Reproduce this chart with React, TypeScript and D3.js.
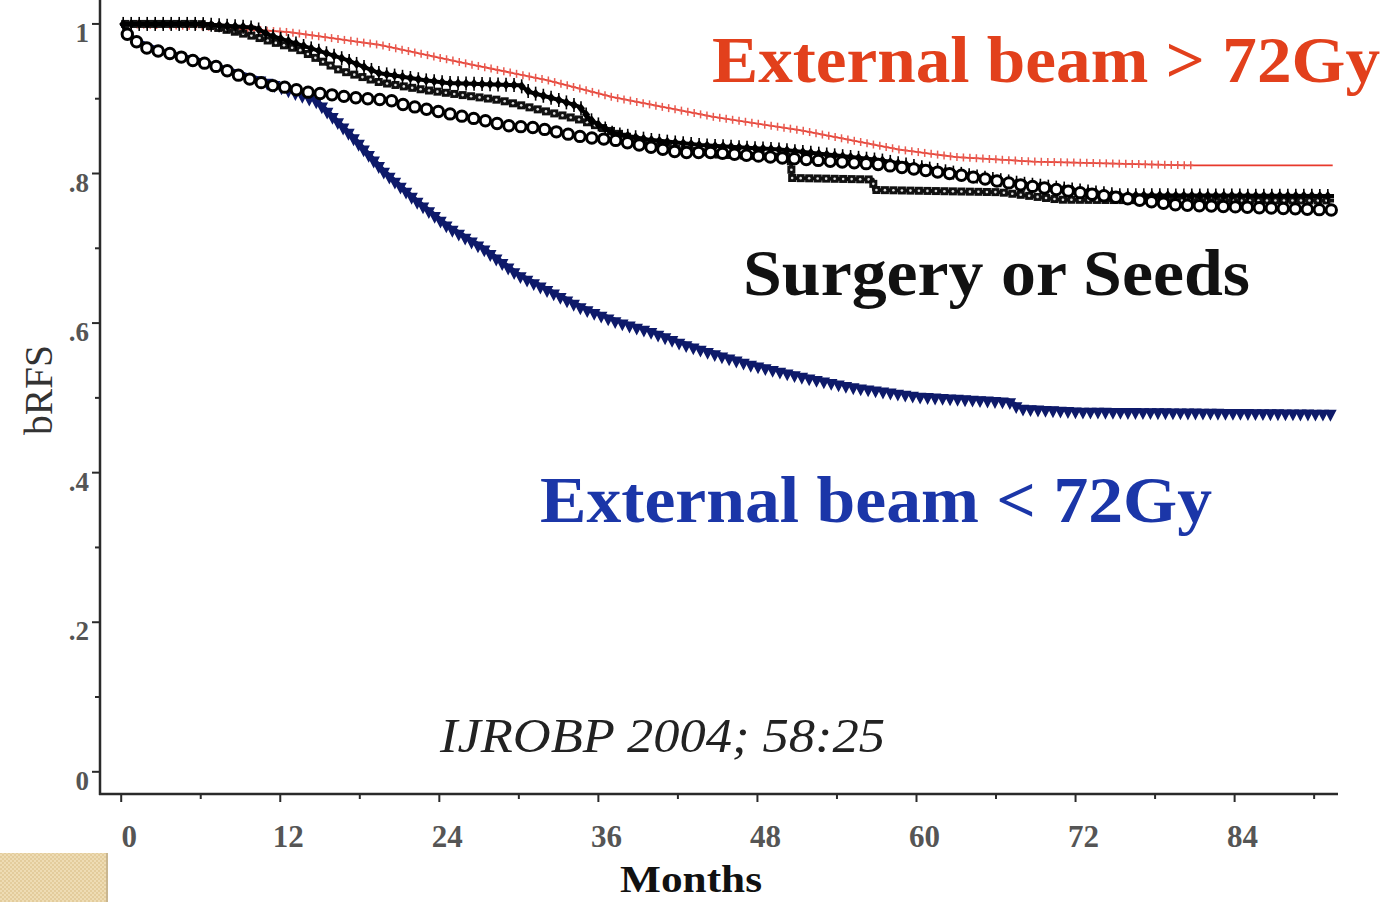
import React, { useEffect, useRef } from 'react';
import * as d3 from 'd3';

const W = 1391;
const H = 902;

// Axis ticks
const xMajorTicks = [0, 12, 24, 36, 48, 60, 72, 84];
const xMinorTicks = [6, 18, 30, 42, 54, 66, 78, 90];
const yMajorTicks = [0, 0.2, 0.4, 0.6, 0.8, 1];
const yMajorLabels = ['0', '.2', '.4', '.6', '.8', '1'];
const yMinorTicks = [0.1, 0.3, 0.5, 0.7, 0.9];

// External beam > 72Gy (red)
const redMonths = [0, 6, 12.7, 19.5, 25.8, 32.1, 37.1, 44.6, 51.2, 58.7, 63, 68.8, 80.4, 91.4];
const redSurv = [1.0, 0.997, 0.989, 0.972, 0.948, 0.925, 0.902, 0.876, 0.858, 0.832, 0.822, 0.816, 0.811, 0.811];

// External beam < 72Gy (blue)
const blueMonths = [0, 1, 3, 6, 9, 12, 14.8, 17.3, 19.8, 22.3, 24.8, 27.3, 29.9, 32.4, 34.8, 37.4, 39.9, 42.4, 44.9, 47.4, 51.2, 55, 60.2, 67, 67.8, 72.2, 91.5];
const blueSurv = [1.0, 0.98, 0.965, 0.952, 0.935, 0.918, 0.898, 0.854, 0.805, 0.765, 0.729, 0.702, 0.667, 0.644, 0.622, 0.604, 0.591, 0.574, 0.56, 0.547, 0.531, 0.517, 0.504, 0.497, 0.488, 0.484, 0.481];

// Surgery / seeds curves (black)
const circMonths = [0, 0.5, 0.9, 2.2, 3.2, 5.2, 6.2, 7.2, 8.2, 9.2, 11.2, 12.2, 14, 16, 17.3, 18.6, 20.3, 21.3, 23.3, 25.3, 27.1, 29.1, 31.4, 33.3, 35.1, 37.1, 39.7, 42.2, 44.6, 49.7, 57.2, 63.3, 67.8, 73.8, 79.6, 91.5];
const circSurv = [1.0, 0.985, 0.979, 0.965, 0.963, 0.952, 0.948, 0.943, 0.936, 0.929, 0.918, 0.916, 0.909, 0.905, 0.902, 0.9, 0.898, 0.892, 0.885, 0.878, 0.872, 0.864, 0.861, 0.854, 0.848, 0.845, 0.836, 0.828, 0.828, 0.821, 0.812, 0.798, 0.785, 0.771, 0.758, 0.751];

const solidMonths = [0, 6, 10.1, 11.2, 13.5, 15.8, 17, 19.5, 22.8, 24.6, 30.1, 30.8, 33.1, 34.6, 35.4, 37.1, 39.9, 43.7, 49.7, 57.2, 62.5, 67.8, 75.3, 91.5];
const solidSurv = [1.0, 1.0, 0.995, 0.985, 0.972, 0.959, 0.952, 0.934, 0.925, 0.921, 0.918, 0.909, 0.898, 0.889, 0.872, 0.854, 0.845, 0.838, 0.832, 0.818, 0.802, 0.787, 0.771, 0.77];

const stepMonths = [0, 6, 9.7, 13.5, 16.5, 19.5, 22.8, 28.6, 34.6, 39.9, 45.2, 50.5, 50.6, 56.7, 56.8, 66.3, 70.8, 79.6, 91.5];
const stepSurv = [1.0, 1.0, 0.985, 0.965, 0.938, 0.922, 0.912, 0.898, 0.872, 0.838, 0.825, 0.822, 0.794, 0.792, 0.778, 0.775, 0.765, 0.764, 0.764];

export default function App() {
  const ref = useRef<SVGSVGElement | null>(null);

  useEffect(() => {
    document.body.style.margin = '0';
    document.body.style.overflow = 'hidden';
    const svg = d3.select(ref.current);
    svg.selectAll('*').remove();

    const x = d3.scaleLinear().domain([-1.6, 91.8]).range([100, 1338]);
    const y = d3.scaleLinear().domain([-0.031, 1.032]).range([795, 0]);

    const defs = svg.append('defs');
    const pat = defs.append('pattern').attr('id', 'chk').attr('width', 4).attr('height', 4).attr('patternUnits', 'userSpaceOnUse');
    pat.append('rect').attr('width', 4).attr('height', 4).attr('fill', '#eedcb4');
    pat.append('rect').attr('width', 2).attr('height', 2).attr('fill', '#e3cc9c');
    pat.append('rect').attr('x', 2).attr('y', 2).attr('width', 2).attr('height', 2).attr('fill', '#e3cc9c');

    svg.append('rect').attr('width', W).attr('height', H).attr('fill', '#ffffff');
    svg.append('rect').attr('x', 0).attr('y', 853).attr('width', 107).attr('height', 49).attr('fill', 'url(#chk)');
    svg.append('line').attr('x1', 107).attr('x2', 107).attr('y1', 853).attr('y2', 902).attr('stroke', '#c9b690').attr('stroke-width', 2);

    const axisColor = '#2a2a2a';
    const serif = '"Liberation Serif", "DejaVu Serif", serif';
    const g = svg.append('g');
    g.append('line').attr('x1', 100).attr('x2', 100).attr('y1', y(1.032)).attr('y2', 795).attr('stroke', axisColor).attr('stroke-width', 2.5);
    g.append('line').attr('x1', 99).attr('x2', 1338).attr('y1', 794).attr('y2', 794).attr('stroke', axisColor).attr('stroke-width', 2.5);

    g.selectAll('.ymaj').data(yMajorTicks).enter().append('line')
      .attr('x1', 92).attr('x2', 100).attr('y1', (d) => y(d)).attr('y2', (d) => y(d))
      .attr('stroke', axisColor).attr('stroke-width', 2);
    g.selectAll('.ymin').data(yMinorTicks).enter().append('line')
      .attr('x1', 95).attr('x2', 100).attr('y1', (d) => y(d)).attr('y2', (d) => y(d))
      .attr('stroke', axisColor).attr('stroke-width', 2);
    g.selectAll('.ylab').data(yMajorTicks).enter().append('text')
      .attr('x', 89).attr('y', (d) => y(d) + 18)
      .attr('text-anchor', 'end')
      .attr('font-family', serif).attr('font-weight', 'bold')
      .attr('font-size', 27).attr('fill', '#555')
      .text((d, i) => yMajorLabels[i]);

    g.selectAll('.xmaj').data(xMajorTicks).enter().append('line')
      .attr('x1', (d) => x(d)).attr('x2', (d) => x(d)).attr('y1', 794).attr('y2', 802)
      .attr('stroke', axisColor).attr('stroke-width', 2);
    g.selectAll('.xmin').data(xMinorTicks).enter().append('line')
      .attr('x1', (d) => x(d)).attr('x2', (d) => x(d)).attr('y1', 794).attr('y2', 799)
      .attr('stroke', axisColor).attr('stroke-width', 2);
    g.selectAll('.xlab').data(xMajorTicks).enter().append('text')
      .attr('x', (d) => x(d) + 8).attr('y', 847)
      .attr('text-anchor', 'middle')
      .attr('font-family', serif).attr('font-weight', 'bold')
      .attr('font-size', 31).attr('fill', '#555')
      .text((d) => String(d));

    svg.append('text').attr('transform', 'translate(52,390) rotate(-90)')
      .attr('text-anchor', 'middle')
      .attr('font-family', serif).attr('font-size', 40)
      .attr('textLength', 90).attr('lengthAdjust', 'spacingAndGlyphs')
      .attr('fill', '#333').text('bRFS');
    svg.append('text').attr('x', 691).attr('y', 892).attr('text-anchor', 'middle')
      .attr('font-family', serif).attr('font-weight', 'bold').attr('font-size', 38)
      .attr('textLength', 142).attr('lengthAdjust', 'spacingAndGlyphs')
      .attr('fill', '#111').text('Months');

    const line = d3.line<[number, number]>().x((d) => x(d[0])).y((d) => y(d[1]));
    const pts = (ms: number[], ss: number[]) => ms.map((m, i) => [m, ss[i]] as [number, number]);

    function drawCurve(ms: number[], ss: number[], color: string, width: number, spacing: number, offset: number, minMonth: number, maxMonth: number, marker: (gg: any, px: number, py: number) => void) {
      const cg = svg.append('g');
      const p = cg.append('path').attr('d', line(pts(ms, ss)) as string)
        .attr('fill', 'none').attr('stroke', color).attr('stroke-width', width).attr('stroke-linejoin', 'round');
      const node = p.node() as SVGPathElement;
      const total = node.getTotalLength();
      const mg = cg.append('g');
      for (let l = offset; l < total; l += spacing) {
        const pt = node.getPointAtLength(l);
        if (pt.x > x(maxMonth) || pt.x < x(minMonth)) continue;
        marker(mg, pt.x, pt.y);
      }
    }

    // red
    drawCurve(redMonths, redSurv, '#e8392c', 1.8, 6.5, 3, 0, 81, (mg, px, py) => {
      mg.append('line').attr('x1', px).attr('x2', px).attr('y1', py - 4).attr('y2', py + 4)
        .attr('stroke', '#e85a50').attr('stroke-width', 1.5);
      mg.append('line').attr('x1', px - 2.5).attr('x2', px + 2.5).attr('y1', py).attr('y2', py)
        .attr('stroke', '#e85a50').attr('stroke-width', 1.5);
    });
    // blue
    drawCurve(blueMonths, blueSurv, '#0e1a6a', 3.5, 7.5, 2, 10, 92, (mg, px, py) => {
      mg.append('path').attr('d', `M${px - 5},${py - 1.5}L${px + 5},${py - 1.5}L${px},${py + 8}Z`)
        .attr('fill', '#0e1a6a').attr('stroke', '#0e1a6a').attr('stroke-width', 1.5);
    });
    // lower step
    drawCurve(stepMonths, stepSurv, '#111', 4, 8.5, 4, 0, 92, (mg, px, py) => {
      mg.append('rect').attr('x', px - 4).attr('y', py - 4).attr('width', 8).attr('height', 8)
        .attr('fill', '#111');
      mg.append('circle').attr('cx', px).attr('cy', py).attr('r', 1.3).attr('fill', '#ddd');
    });
    // upper solid
    drawCurve(solidMonths, solidSurv, '#000', 4, 8, 2, 0, 92, (mg, px, py) => {
      mg.append('path').attr('d', `M${px},${py - 5}L${px + 4},${py}L${px},${py + 5}L${px - 4},${py}Z`)
        .attr('fill', '#000');
      mg.append('line').attr('x1', px).attr('x2', px).attr('y1', py - 7).attr('y2', py + 7)
        .attr('stroke', '#000').attr('stroke-width', 1.6);
    });
    // circles
    drawCurve(circMonths, circSurv, '#000', 3, 12, 12, 0, 92, (mg, px, py) => {
      mg.append('circle').attr('cx', px).attr('cy', py).attr('r', 5.2)
        .attr('fill', '#fff').attr('stroke', '#000').attr('stroke-width', 3);
    });

    // annotations
    svg.append('text').attr('x', 712).attr('y', 82).attr('font-family', serif).attr('font-weight', 'bold')
      .attr('font-size', 66).attr('textLength', 668).attr('lengthAdjust', 'spacingAndGlyphs')
      .attr('fill', '#e2401c').text('External beam > 72Gy');
    svg.append('text').attr('x', 743).attr('y', 295).attr('font-family', serif).attr('font-weight', 'bold')
      .attr('font-size', 66).attr('textLength', 507).attr('lengthAdjust', 'spacingAndGlyphs')
      .attr('fill', '#111').text('Surgery or Seeds');
    svg.append('text').attr('x', 540).attr('y', 522).attr('font-family', serif).attr('font-weight', 'bold')
      .attr('font-size', 66).attr('textLength', 672).attr('lengthAdjust', 'spacingAndGlyphs')
      .attr('fill', '#1b36a8').text('External beam < 72Gy');
    svg.append('text').attr('x', 440).attr('y', 752).attr('font-family', serif).attr('font-style', 'italic')
      .attr('font-size', 48).attr('textLength', 445).attr('lengthAdjust', 'spacingAndGlyphs')
      .attr('fill', '#222').text('IJROBP 2004; 58:25');
  }, []);

  return (
    <div style={{ position: 'absolute', left: 0, top: 0 }}>
      <svg ref={ref} width={W} height={H} style={{ display: 'block' }} />
    </div>
  );
}
